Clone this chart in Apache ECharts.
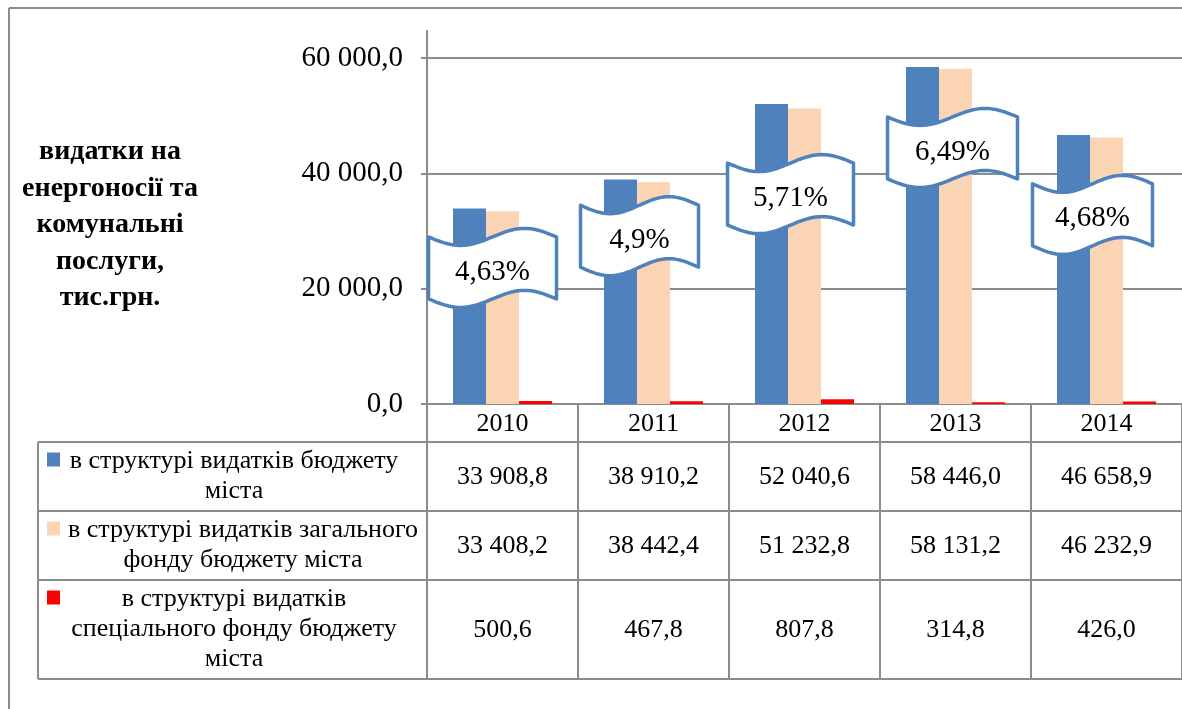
<!DOCTYPE html>
<html>
<head>
<meta charset="utf-8">
<script src="https://cdn.jsdelivr.net/npm/echarts@6/dist/echarts.min.js"></script>
<style>
  html, body { margin: 0; padding: 0; background: #fff; }
  #chart { width: 1182px; height: 709px; }
</style>
</head>
<body>
<div id="chart"></div>
<script>
  // дані
  const years = ['2010', '2011', '2012', '2013', '2014'];
  const budgetTotal = [33908.8, 38910.2, 52040.6, 58446.0, 46658.9];
  const generalFund = [33408.2, 38442.4, 51232.8, 58131.2, 46232.9];
  const specialFund = [500.6, 467.8, 807.8, 314.8, 426.0];
  const shares = ['4,63%', '4,9%', '5,71%', '6,49%', '4,68%'];
  const seriesNames = [
    'в структурі видатків бюджету\nміста',
    'в структурі видатків загального\nфонду бюджету міста',
    'в структурі видатків\nспеціального фонду бюджету\nміста'
  ];
  const yTitle = 'видатки на\nенергоносії та\nкомунальні\nпослуги,\nтис.грн.';

  const colors = ['#4F81BD', '#FBD4B4', '#FF0000'];
  const gray = '#8c8c8c';
  const serif = 'Liberation Serif';

  // розміщення виносок (не дані)
  const callouts = [
    { y: 23600, dx: -10, w: 128 },
    { y: 29100, dx: -14, w: 118 },
    { y: 36400, dx: -14, w: 126 },
    { y: 44400, dx: -3, w: 130 },
    { y: 32800, dx: -14, w: 120 }
  ];

  function fmt(v) {
    let s = v.toFixed(1).split('.');
    let int = s[0].replace(/\B(?=(\d{3})+(?!\d))/g, ' ');
    return int + ',' + s[1];
  }

  const myChart = echarts.init(document.getElementById('chart'));

  const option = {
    animation: false,
    textStyle: { fontFamily: serif },
    grid: { left: 427, right: 0, top: 58, bottom: 305 },
    xAxis: {
      type: 'category',
      data: years,
      axisLine: { lineStyle: { color: gray, width: 2 } },
      axisTick: { show: true, length: 275, lineStyle: { color: gray, width: 2 } },
      axisLabel: { color: '#000', fontFamily: serif, fontSize: 26, margin: 7 }
    },
    yAxis: {
      type: 'value',
      min: 0,
      max: 60000,
      interval: 20000,
      axisLine: { show: true, lineStyle: { color: gray, width: 2 } },
      axisTick: { show: true, length: 6, lineStyle: { color: gray, width: 2 } },
      splitLine: { lineStyle: { color: gray, width: 2 } },
      axisLabel: {
        color: '#000', fontFamily: serif, fontSize: 29, margin: 24,
        formatter: v => fmt(v)
      }
    },
    series: [
      { name: seriesNames[0], type: 'bar', data: budgetTotal, barWidth: 33, barGap: '0%', itemStyle: { color: colors[0] } },
      { name: seriesNames[1], type: 'bar', data: generalFund, barWidth: 33, barGap: '0%', itemStyle: { color: colors[1] } },
      { name: seriesNames[2], type: 'bar', data: specialFund, barWidth: 33, barGap: '0%', itemStyle: { color: colors[2] } },
      {
        type: 'custom',
        z: 10,
        data: years.map((y, i) => [i, callouts[i].y, shares[i]]),
        renderItem: function (params, api) {
          const i = params.dataIndex;
          const L = callouts[i];
          const c = api.coord([api.value(0), api.value(1)]);
          const cx = c[0] + L.dx;
          const w = L.w, h = 62, amp = 8.5, N = 40;
          const x0 = cx - w / 2, y0 = c[1] - h / 2;
          const pts = [];
          for (let k = 0; k <= N; k++) {
            pts.push([x0 + w * k / N, y0 + amp * Math.sin(2 * Math.PI * k / N)]);
          }
          for (let k = N; k >= 0; k--) {
            pts.push([x0 + w * k / N, y0 + h + amp * Math.sin(2 * Math.PI * k / N)]);
          }
          return {
            type: 'group',
            children: [
              { type: 'polygon', shape: { points: pts },
                style: { fill: '#fff', stroke: colors[0], lineWidth: 3.5, lineJoin: 'round' } },
              { type: 'text',
                style: { text: shares[i], x: cx, y: c[1] + 4, align: 'center', verticalAlign: 'middle',
                  fontFamily: serif, fontSize: 29, fill: '#000' } }
            ]
          };
        }
      }
    ]
  };

  myChart.setOption(option);

  // таблиця даних під графіком
  const topY = myChart.convertToPixel({ yAxisIndex: 0 }, 60000);
  const plotLeft = 427, plotRight = 1182, tableLeft = 38;
  const rows = [[442, 511], [511, 580], [580, 679]];
  const rowValues = [budgetTotal, generalFund, specialFund];
  const g = [];

  // рамка
  g.push({ type: 'line', shape: { x1: 9, y1: 8, x2: 1182, y2: 8 }, style: { stroke: gray, lineWidth: 2 } });
  g.push({ type: 'line', shape: { x1: 9, y1: 8, x2: 9, y2: 709 }, style: { stroke: gray, lineWidth: 2 } });
  // продовження осі вгору
  g.push({ type: 'line', shape: { x1: plotLeft, y1: 30, x2: plotLeft, y2: topY }, style: { stroke: gray, lineWidth: 2 } });

  // назва осі
  g.push({ type: 'text', style: { text: yTitle, x: 110, y: 225, align: 'center', verticalAlign: 'middle',
    fontFamily: serif, fontWeight: 'bold', fontSize: 28, lineHeight: 36.5, fill: '#000' } });

  rows.forEach((r, ri) => {
    g.push({ type: 'line', shape: { x1: tableLeft, y1: r[0], x2: plotRight, y2: r[0] }, style: { stroke: gray, lineWidth: 2 } });
    if (ri === rows.length - 1) {
      g.push({ type: 'line', shape: { x1: tableLeft, y1: r[1], x2: plotRight, y2: r[1] }, style: { stroke: gray, lineWidth: 2 } });
    }
    const mid = (r[0] + r[1]) / 2;
    const nLines = seriesNames[ri].split('\n').length;
    const firstLine = mid - (nLines - 1) * 30 / 2;
    g.push({ type: 'rect', shape: { x: 47, y: firstLine - 9, width: 13, height: 14 }, style: { fill: colors[ri] } });
    g.push({ type: 'text', style: { text: seriesNames[ri], x: ri === 1 ? 243 : 234, y: mid, align: 'center',
      verticalAlign: 'middle', fontFamily: serif, fontSize: 26, lineHeight: 30, fill: '#000' } });
    years.forEach((y, ci) => {
      const cx = myChart.convertToPixel({ xAxisIndex: 0 }, ci);
      g.push({ type: 'text', style: { text: fmt(rowValues[ri][ci]), x: cx, y: mid + 1, align: 'center',
        verticalAlign: 'middle', fontFamily: serif, fontSize: 26, fill: '#000' } });
    });
  });
  g.push({ type: 'line', shape: { x1: tableLeft, y1: rows[0][0], x2: tableLeft, y2: rows[2][1] }, style: { stroke: gray, lineWidth: 2 } });

  myChart.setOption({ graphic: g });

  window.onresize = function () {
    myChart.resize()
  }
</script>
</body>
</html>
